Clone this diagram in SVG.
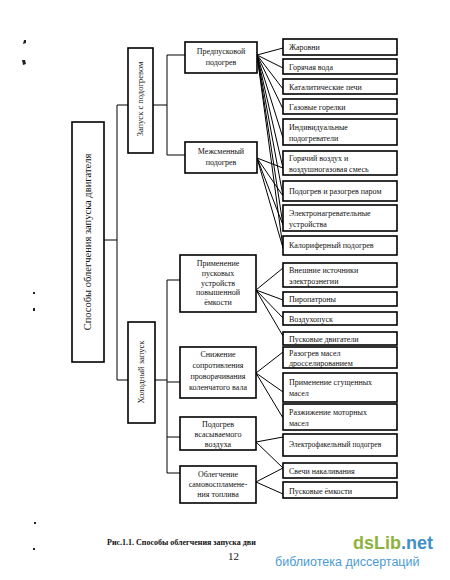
<svg xmlns="http://www.w3.org/2000/svg" width="450" height="580" viewBox="0 0 450 580">
<style>
.box{fill:#fff;stroke:#000;stroke-width:1.6}
.t{font-family:"Liberation Serif","Times New Roman",serif;font-size:8px;fill:#111}
.m{text-anchor:middle}
.conn line,.conn polyline{stroke:#000;stroke-width:1;fill:none}
.speck{fill:#222}
</style>
<rect width="450" height="580" fill="#fff"/>
<g class="conn">
<line x1="104" y1="240" x2="117" y2="240"/>
<line x1="117" y1="105" x2="117" y2="380"/>
<line x1="117" y1="105" x2="128" y2="105"/>
<line x1="117" y1="380" x2="128" y2="380"/>
<line x1="153" y1="105" x2="167" y2="105"/>
<polyline points="185,55 167,55 167,155 185,155"/>
<line x1="155" y1="380" x2="167" y2="380"/>
<line x1="167" y1="280" x2="167" y2="473"/>
<line x1="167" y1="280" x2="180" y2="280"/>
<line x1="167" y1="382" x2="180" y2="382"/>
<line x1="167" y1="437" x2="180" y2="437"/>
<line x1="167" y1="473" x2="180" y2="473"/>
<line x1="257" y1="55" x2="283" y2="48"/>
<line x1="257" y1="55" x2="283" y2="68"/>
<line x1="257" y1="55" x2="283" y2="89"/>
<line x1="257" y1="55" x2="283" y2="109"/>
<line x1="257" y1="55" x2="283" y2="138"/>
<line x1="257" y1="55" x2="283" y2="168"/>
<line x1="257" y1="55" x2="283" y2="196"/>
<line x1="257" y1="55" x2="283" y2="225"/>
<line x1="257" y1="55" x2="283" y2="248"/>
<line x1="257" y1="158" x2="283" y2="168"/>
<line x1="257" y1="158" x2="283" y2="196"/>
<line x1="257" y1="158" x2="283" y2="225"/>
<line x1="257" y1="158" x2="283" y2="248"/>
<line x1="256" y1="290" x2="283" y2="268"/>
<line x1="256" y1="290" x2="283" y2="300"/>
<line x1="256" y1="290" x2="283" y2="318"/>
<line x1="256" y1="290" x2="283" y2="336"/>
<line x1="256" y1="373" x2="283" y2="352"/>
<line x1="256" y1="373" x2="283" y2="392"/>
<line x1="256" y1="373" x2="283" y2="418"/>
<line x1="256" y1="442" x2="283" y2="437"/>
<line x1="256" y1="442" x2="283" y2="468"/>
<line x1="256" y1="482" x2="283" y2="468"/>
<line x1="256" y1="482" x2="283" y2="494"/>
</g>
<g id="root"><rect class="box" x="72" y="122" width="32" height="240"/><text class="t m" style="font-size:10.5px" transform="translate(91,242) rotate(-90)">Способы облегчения запуска двигателя</text></g>
<g id="warm"><rect class="box" x="128" y="48" width="25" height="105"/><text class="t m" style="font-size:8.5px" transform="translate(143,99) rotate(-90)">Запуск с подогревом</text></g>
<g id="cold"><rect class="box" x="128" y="322" width="27" height="101"/><text class="t m" style="font-size:8.5px" transform="translate(144,372) rotate(-90)">Холодный запуск</text></g>
<g id="prestart"><rect class="box" x="185" y="42" width="72" height="31"/><text class="t m" x="221" y="54">Предпусковой</text><text class="t m" x="221" y="65">подогрев</text></g>
<g id="intershift"><rect class="box" x="185" y="142" width="72" height="31"/><text class="t m" x="221" y="154">Межсменный</text><text class="t m" x="221" y="165">подогрев</text></g>
<g id="devices"><rect class="box" x="180" y="255" width="76" height="57"/><text class="t m" x="218" y="266">Применение</text><text class="t m" x="218" y="276">пусковых</text><text class="t m" x="218" y="285.5">устройств</text><text class="t m" x="218" y="295">повышенной</text><text class="t m" x="218" y="304.5">ёмкости</text></g>
<g id="resistance"><rect class="box" x="180" y="347" width="76" height="51"/><text class="t m" x="218" y="357">Снижение</text><text class="t m" x="218" y="368">сопротивления</text><text class="t m" x="218" y="379">проворачивания</text><text class="t m" x="218" y="390">коленчатого вала</text></g>
<g id="intake"><rect class="box" x="180" y="417" width="76" height="33"/><text class="t m" x="218" y="427">Подогрев</text><text class="t m" x="218" y="437">всасываемого</text><text class="t m" x="218" y="447">воздуха</text></g>
<g id="ignition"><rect class="box" x="180" y="466" width="76" height="37"/><text class="t m" x="218" y="477">Облегчение</text><text class="t m" x="218" y="487">самовоспламене-</text><text class="t m" x="218" y="497">ния топлива</text></g>
<g id="n1"><rect class="box" x="283" y="39" width="114" height="16"/><text class="t" x="289" y="50">Жаровни</text></g>
<g id="n2"><rect class="box" x="283" y="59" width="114" height="15"/><text class="t" x="289" y="70">Горячая вода</text></g>
<g id="n3"><rect class="box" x="283" y="79" width="114" height="15"/><text class="t" x="289" y="90">Каталитические печи</text></g>
<g id="n4"><rect class="box" x="283" y="99" width="114" height="15"/><text class="t" x="289" y="110">Газовые горелки</text></g>
<g id="n5"><rect class="box" x="283" y="119" width="114" height="26"/><text class="t" x="289" y="130">Индивидуальные</text><text class="t" x="289" y="141">подогреватели</text></g>
<g id="n6"><rect class="box" x="283" y="151" width="114" height="24"/><text class="t" x="289" y="161">Горячий воздух и</text><text class="t" x="289" y="172">воздушногазовая смесь</text></g>
<g id="n7"><rect class="box" x="283" y="181" width="114" height="20"/><text class="t" x="289" y="194">Подогрев и разогрев паром</text></g>
<g id="n8"><rect class="box" x="283" y="205" width="114" height="26"/><text class="t" x="289" y="216">Электронагревательные</text><text class="t" x="289" y="227">устройства</text></g>
<g id="n9"><rect class="box" x="283" y="236" width="114" height="19"/><text class="t" x="289" y="248">Калориферный подогрев</text></g>
<g id="n10"><rect class="box" x="283" y="263" width="114" height="24"/><text class="t" x="289" y="273">Внешние источники</text><text class="t" x="289" y="284">электроэнегии</text></g>
<g id="n11"><rect class="box" x="283" y="292" width="114" height="14"/><text class="t" x="289" y="302">Пиропатроны</text></g>
<g id="n12"><rect class="box" x="283" y="312" width="114" height="13"/><text class="t" x="289" y="322">Воздухопуск</text></g>
<g id="n13"><rect class="box" x="283" y="332" width="114" height="13"/><text class="t" x="289" y="342">Пусковые двигатели</text></g>
<g id="n14"><rect class="box" x="283" y="347" width="114" height="21"/><text class="t" x="289" y="356">Разогрев масел</text><text class="t" x="289" y="366">дросселированием</text></g>
<g id="n15"><rect class="box" x="283" y="373" width="114" height="29"/><text class="t" x="289" y="385">Применение сгущенных</text><text class="t" x="289" y="396">масел</text></g>
<g id="n16"><rect class="box" x="283" y="404" width="114" height="26"/><text class="t" x="289" y="415">Разжижение моторных</text><text class="t" x="289" y="426">масел</text></g>
<g id="n17"><rect class="box" x="283" y="434" width="114" height="22"/><text class="t" x="289" y="447" style="font-size:7.5px">Электрофакельный подогрев</text></g>
<g id="n18"><rect class="box" x="283" y="463" width="114" height="15"/><text class="t" x="289" y="474">Свечи накаливания</text></g>
<g id="n19"><rect class="box" x="283" y="482" width="114" height="16"/><text class="t" x="289" y="494">Пусковые ёмкости</text></g>
<text class="t" x="107" y="545" style="font-size:8px;font-weight:bold">Рис.1.1. Способы облегчения запуска дви</text>
<text class="t" x="228" y="560" style="font-size:11px">12</text>
<text x="353" y="549" style="font-family:'Liberation Sans',Arial,sans-serif;font-size:18px;font-weight:bold"><tspan fill="#8db33d">dsLib</tspan><tspan fill="#3f8fc9">.net</tspan></text>
<text x="275" y="566" style="font-family:'Liberation Sans',Arial,sans-serif;font-size:12.5px;fill:#4a9bd3">библиотека диссертаций</text>
<path class="speck" d="M24,40 l2,0 l0,3 l-3,1 z"/>
<path class="speck" d="M22,60 l3,0 l1,4 l-3,1 z"/>
<path class="speck" d="M33,292 l2,0 l0,2 l-2,0 z"/>
<path class="speck" d="M33,308 l2,0 l0,3 l-2,0 z"/>
<path class="speck" d="M34,522 l2,0 l0,2 l-2,0 z"/>
<path class="speck" d="M33,548 l2,0 l0,2 l-2,0 z"/>
</svg>
